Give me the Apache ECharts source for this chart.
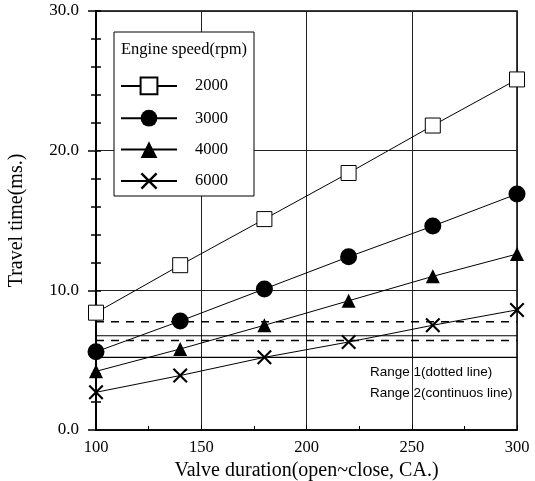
<!DOCTYPE html>
<html><head><meta charset="utf-8">
<script src="https://cdn.jsdelivr.net/npm/echarts@6/dist/echarts.min.js"></script>
<style>html,body{margin:0;padding:0;background:#fff}#c{width:535px;height:481px}</style>
</head><body><div id="c"></div>
<script>
const durations = [100, 140, 180, 220, 260, 300];
const speeds = ['2000', '3000', '4000', '6000'];
const t2000 = [8.4, 11.8, 15.1, 18.4, 21.8, 25.1];
const t3000 = [5.6, 7.8, 10.1, 12.4, 14.6, 16.9];
const t4000 = [4.2, 5.8, 7.5, 9.25, 11.0, 12.6];
const t6000 = [2.7, 3.9, 5.2, 6.3, 7.5, 8.6];
const range1 = [7.75, 6.4];   // dotted
const range2 = [6.75, 5.2];   // continuous
const rangeX = [100, 300];
const rangeLabels = ['Range 1(dotted line)', 'Range 2(continuos line)'];
const legendTitle = 'Engine speed(rpm)';

const crossPath = 'path://M2,0 L10,8 L18,0 L20,2 L12,10 L20,18 L18,20 L10,12 L2,20 L0,18 L8,10 L0,2 Z';
const values = [t2000, t3000, t4000, t6000];
const symbols = ['rect', 'circle', 'triangle', crossPath];
const sizes = [15, 17, 14, 15];
const serif = '"Liberation Serif", "DejaVu Serif", serif';

const series = speeds.map((s, i) => ({
  name: s, type: 'line',
  data: durations.map((d, j) => [d, values[i][j]]),
  symbol: symbols[i], symbolSize: sizes[i],
  lineStyle: { color: '#000', width: 1 },
  itemStyle: i === 0 ? { color: '#fff', borderColor: '#000', borderWidth: 1 } : { color: '#000', borderColor: '#000', borderWidth: 0 },
  z: 5
}));
range1.forEach(v => series.push({
  type: 'line', data: rangeX.map(x => [x, v]), symbol: 'none', silent: true,
  lineStyle: { color: '#000', width: 1.5, type: [8, 7] }, z: 2
}));
range2.forEach(v => series.push({
  type: 'line', data: rangeX.map(x => [x, v]), symbol: 'none', silent: true,
  lineStyle: { color: '#000', width: 1.2 }, z: 2
}));

const chart = echarts.init(document.getElementById('c'));
chart.setOption({
  animation: false,
  backgroundColor: '#fff',
  grid: { left: 96, right: 18, top: 11, bottom: 51, show: true, borderColor: '#000', borderWidth: 1.5,
          containLabel: false, outerBoundsMode: 'none' },
  xAxis: [{
    type: 'value', min: 100, max: 300, interval: 50,
    axisLine: { lineStyle: { color: '#000', width: 1.5 } },
    axisTick: { inside: true, length: 5, lineStyle: { color: '#000' } },
    minorTick: { show: true, splitNumber: 2, length: 4, lineStyle: { color: '#000' } },
    splitLine: { show: true, lineStyle: { color: '#222', width: 1 } },
    axisLabel: { color: '#000', fontFamily: serif, fontSize: 16.5, margin: 9 },
    name: 'Valve duration(open~close, CA.)', nameLocation: 'middle', nameGap: 22,
    nameTextStyle: { color: '#000', fontFamily: serif, fontSize: 20 }
  }],
  yAxis: [{
    type: 'value', min: 0, max: 30, interval: 10,
    axisLine: { lineStyle: { color: '#000', width: 2 } },
    axisTick: { inside: false, length: 8, lineStyle: { color: '#000', width: 1.5 } },
    minorTick: { show: true, splitNumber: 5, length: 5, lineStyle: { color: '#000', width: 1.5 } },
    splitLine: { show: true, lineStyle: { color: '#222', width: 1 } },
    axisLabel: { color: '#000', fontFamily: serif, fontSize: 17, margin: 17, formatter: v => v.toFixed(1) },
    name: 'Travel time(ms.)', nameLocation: 'middle', nameGap: 69,
    nameTextStyle: { color: '#000', fontFamily: serif, fontSize: 20 }
  }, {
    type: 'value', min: 0, max: 30, interval: 10, position: 'left',
    axisLine: { show: false },
    axisTick: { inside: true, length: 5, lineStyle: { color: '#000', width: 1.5 } },
    minorTick: { show: true, splitNumber: 5, length: 5, lineStyle: { color: '#000', width: 1.5 } },
    splitLine: { show: false }, axisLabel: { show: false }
  }],
  legend: {
    data: speeds, orient: 'vertical', left: 120, top: 76.5, padding: 0,
    itemWidth: 56, itemHeight: 21, itemGap: 14.4, z: 10,
    textStyle: { color: '#000', fontFamily: serif, fontSize: 16.5, padding: [0, 0, 0, 13] },
    inactiveColor: '#000'
  },
  graphic: [
    { type: 'rect', shape: { x: 114, y: 32, width: 140, height: 164 }, z: 8,
      style: { fill: '#fff', stroke: '#000', lineWidth: 1 } },
    { type: 'text', x: 184, y: 50, z: 9,
      style: { text: legendTitle, fill: '#000', font: '16.5px "Liberation Serif", serif', textAlign: 'center', textVerticalAlign: 'middle' } },
    { type: 'text', x: 370, y: 372, z: 9,
      style: { text: rangeLabels[0], fill: '#000', font: '13.5px "Liberation Sans", Arial, sans-serif', textVerticalAlign: 'middle' } },
    { type: 'text', x: 370, y: 393, z: 9,
      style: { text: rangeLabels[1], fill: '#000', font: '13.5px "Liberation Sans", Arial, sans-serif', textVerticalAlign: 'middle' } }
  ],
  series: series
});
</script></body></html>
